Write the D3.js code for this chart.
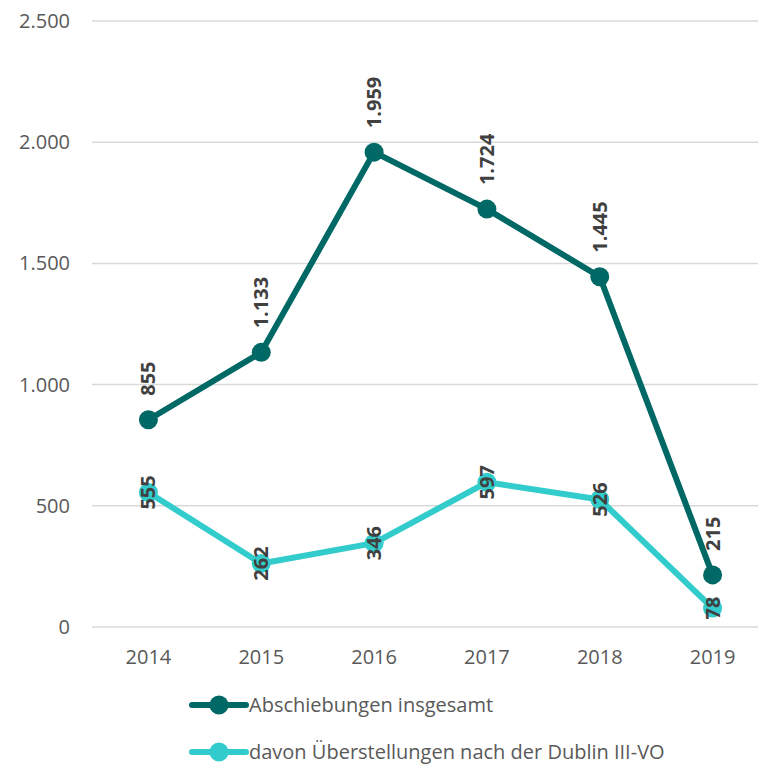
<!DOCTYPE html>
<html>
<head>
<meta charset="utf-8">
<script src="https://cdn.jsdelivr.net/npm/d3@7"></script>
<style>
  body { margin: 0; background: #fff; }
  svg text { font-family: "Open Sans", sans-serif; }
</style>
</head>
<body>
<div id="chart"></div>
<script>
// data
var years = ["2014", "2015", "2016", "2017", "2018", "2019"];
var abschiebungen = [855, 1133, 1959, 1724, 1445, 215];
var dublin = [555, 262, 346, 597, 526, 78];
var yTicks = [0, 500, 1000, 1500, 2000, 2500];
var seriesNames = ["Abschiebungen insgesamt", "davon Überstellungen nach der Dublin III-VO"];
var seriesColors = ["#006865", "#33CCCC"];

var width = 758, height = 769;
var plot = { left: 92, right: 769, top: 21, bottom: 627 };

var svg = d3.select("#chart").append("svg")
    .attr("width", width)
    .attr("height", height);

var x = d3.scalePoint()
    .domain(years)
    .range([plot.left, plot.right])
    .padding(0.5);

var y = d3.scaleLinear()
    .domain([0, 2500])
    .range([plot.bottom, plot.top]);

var fmt = function(v) { return d3.format(",")(v).replace(/,/g, "."); };

// gridlines
svg.append("g").selectAll("line")
    .data(yTicks)
    .enter().append("line")
    .attr("x1", plot.left)
    .attr("x2", width)
    .attr("y1", function(d) { return y(d); })
    .attr("y2", function(d) { return y(d); })
    .attr("stroke", "#D9D9D9")
    .attr("stroke-width", 1.5);

// y labels
svg.append("g").selectAll("text")
    .data(yTicks)
    .enter().append("text")
    .attr("x", 70)
    .attr("y", function(d) { return y(d); })
    .attr("dy", "0.35em")
    .attr("text-anchor", "end")
    .attr("font-size", 20)
    .attr("fill", "#595959")
    .text(fmt);

// x labels
svg.append("g").selectAll("text")
    .data(years)
    .enter().append("text")
    .attr("x", function(d) { return x(d); })
    .attr("y", 657)
    .attr("dy", "0.35em")
    .attr("text-anchor", "middle")
    .attr("font-size", 20)
    .attr("fill", "#595959")
    .text(function(d) { return d; });

var line = d3.line()
    .x(function(d, i) { return x(years[i]); })
    .y(function(d) { return y(d); });

function drawSeries(values, color, labelMode) {
    var g = svg.append("g");
    g.append("path")
        .datum(values)
        .attr("d", line)
        .attr("fill", "none")
        .attr("stroke", color)
        .attr("stroke-width", 6)
        .attr("stroke-linejoin", "round");

    g.selectAll("circle")
        .data(values)
        .enter().append("circle")
        .attr("cx", function(d, i) { return x(years[i]); })
        .attr("cy", function(d) { return y(d); })
        .attr("r", 9.5)
        .attr("fill", color);

    g.selectAll("text")
        .data(values)
        .enter().append("text")
        .attr("transform", function(d, i) {
            var off = labelMode === "above" ? 24 : 0;
            return "translate(" + x(years[i]) + "," + (y(d) - off) + ") rotate(-90)";
        })
        .attr("text-anchor", labelMode === "above" ? "start" : "middle")
        .attr("dy", "0.35em")
        .attr("font-size", 20)
        .attr("font-weight", "bold")
        .attr("fill", "#404040")
        .text(fmt);
}

drawSeries(dublin, seriesColors[1], "center");
drawSeries(abschiebungen, seriesColors[0], "above");

// legend
var legend = svg.append("g");
var legendY = [705, 752];
seriesNames.forEach(function(name, i) {
    var lg = legend.append("g").attr("transform", "translate(0," + legendY[i] + ")");
    lg.append("line")
        .attr("x1", 192).attr("x2", 246)
        .attr("y1", 0).attr("y2", 0)
        .attr("stroke", seriesColors[i])
        .attr("stroke-width", 6)
        .attr("stroke-linecap", "round");
    lg.append("circle")
        .attr("cx", 219).attr("cy", 0)
        .attr("r", 9.5)
        .attr("fill", seriesColors[i]);
    lg.append("text")
        .attr("x", 249).attr("y", 0)
        .attr("dy", "0.35em")
        .attr("font-size", 20)
        .attr("fill", "#595959")
        .text(name);
});
</script>
</body>
</html>
